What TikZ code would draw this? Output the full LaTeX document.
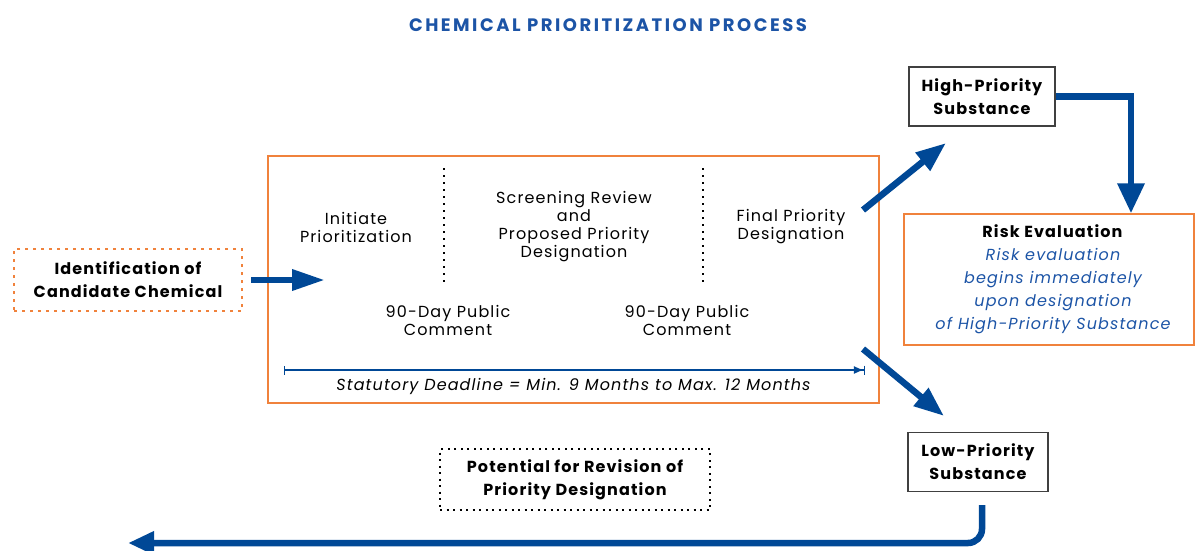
\documentclass[tikz,border=0pt]{standalone}
\usepackage{fontspec}
\setmainfont{Poppins}
\usetikzlibrary{arrows.meta}

\definecolor{procblue}{RGB}{0,72,150}
\definecolor{titleblue}{RGB}{28,84,166}
\definecolor{procorange}{RGB}{240,130,60}

\newcommand{\wide}{\addfontfeature{LetterSpace=7}}

\begin{document}
\begin{tikzpicture}[x=1pt,y=-1pt]

    % Styles:
    \tikzstyle{plain}=[align=center, inner sep=0pt, font=\fontsize{16}{18}\selectfont\wide]
    \tikzstyle{heavy}=[align=center, inner sep=0pt, font=\fontsize{16}{23}\selectfont\bfseries\wide]
    \tikzstyle{outcome}=[heavy, draw=black!75, line width=1.3pt, minimum width=146, minimum height=59]
    \tikzstyle{dotbox}=[heavy, line width=2.6pt, dash pattern=on 2.6pt off 5.4pt]
    \tikzstyle{divider}=[draw, line width=2pt, dash pattern=on 2pt off 5pt]
    \tikzstyle{bigarrow}=[draw, line width=6.5pt, color=procblue, -{Triangle[length=30pt,width=22pt]}]

    \useasboundingbox (0,0) rectangle (1195,550);

    % Title:
    \node (title) at (608,25) [font=\fontsize{18}{18}\selectfont\bfseries\addfontfeature{LetterSpace=14},
        text=titleblue, inner sep=0pt] {CHEMICAL PRIORITIZATION PROCESS};

    % Boxes:
    \node (proc) at (573.5,279.5) [draw=procorange, line width=1.5pt, minimum width=611, minimum height=247] {};
    \node (ident) at (128,280) [dotbox, draw=procorange, minimum width=228, minimum height=62]
        {Identification of\\Candidate Chemical};
    \node (high) at (982,96.5) [outcome] {High-Priority\\Substance};
    \node (low) at (978,462) [outcome, minimum width=140] {Low-Priority\\Substance};
    \node (risk) at (1049,279.5) [draw=procorange, line width=1.4pt, minimum width=290, minimum height=131] {};
    \node (risktxt) at (1053,279) [align=center, font=\fontsize{16}{23}\selectfont\wide]
        {\textbf{Risk Evaluation}\\ \color{titleblue}\itshape Risk evaluation\\
        \color{titleblue}\itshape begins immediately\\ \color{titleblue}\itshape upon designation\\
        \color{titleblue}\itshape of High-Priority Substance};
    \node (revise) at (575,479.5) [dotbox, draw=black, line width=2pt, dash pattern=on 2pt off 4.5pt,
        minimum width=270, minimum height=61] {Potential for Revision of\\Priority Designation};

    % Steps inside the process box:
    \path (proc.center)+(-217.5,-52.5) node (initiate) [plain] {Initiate\\Prioritization};
    \path (proc.center)+(0.5,-52.5) node (screen) [plain] {Screening Review\\and\\Proposed Priority\\Designation};
    \path (proc.center)+(217.5,-52.5) node (final) [plain] {Final Priority\\Designation};
    \path (proc.center)+(-125.5,40.5) node (comment1) [plain] {90-Day Public\\Comment};
    \path (proc.center)+(113.5,40.5) node (comment2) [plain] {90-Day Public\\Comment};
    \path (proc.center)+(0,106.5) node (deadline) [plain, font=\fontsize{16}{18}\selectfont\itshape\wide]
        {Statutory Deadline = Min. 9 Months to Max. 12 Months};

    \coordinate (div1-top) at (444,168);
    \coordinate (div1-bot) at (444,286);
    \coordinate (div2-top) at (703,168);
    \coordinate (div2-bot) at (703,286);
    \coordinate (dl-start) at (284,370);
    \coordinate (dl-end) at (865,370);

    \path [divider] (div1-top) -- (div1-bot);
    \path [divider] (div2-top) -- (div2-bot);
    \draw [procblue, line width=1.2pt, {Bar[width=9pt]}-{Latex[length=10pt,width=8pt]Bar[width=9pt]}]
        (dl-start) -- (dl-end);

    % Arrows:
    \coordinate (in-tip) at (325,280);
    \coordinate (up-from) at (863,210);
    \coordinate (up-tip) at (946,143);
    \coordinate (down-from) at (863,349);
    \coordinate (down-tip) at (944,416);
    \coordinate (low-out) at (982,505);
    \coordinate (back-tip) at (128,543);

    \path [bigarrow, -{Triangle[length=33pt,width=20pt]}] (ident.east)+(8,0) -- (in-tip);
    \path [bigarrow] (up-from) -- (up-tip);
    \path [bigarrow] (down-from) -- (down-tip);
    \path [bigarrow, -{Triangle[length=30pt,width=26pt]}] (high.east) -| ([xshift=82pt]risk.north);
    \path [bigarrow, rounded corners=14pt, -{Triangle[length=26pt,width=22pt]}] (low-out) |- (back-tip);

\end{tikzpicture}
\end{document}
